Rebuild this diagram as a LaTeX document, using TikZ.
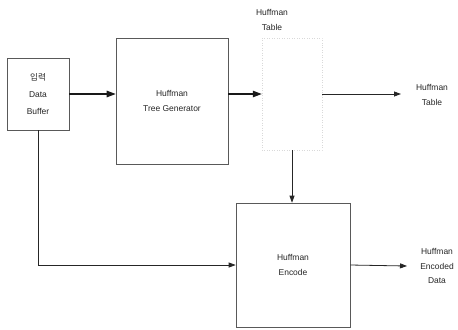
\documentclass[tikz,border=0pt]{standalone}
\usepackage{fontspec}
\setmainfont{Liberation Sans}
\newfontfamily\krfont{Noto Sans CJK KR}
\usetikzlibrary{arrows.meta}
\begin{document}
\begin{tikzpicture}[x=1bp,y=-1bp,
  blk/.style={draw=black!65,line width=0.6bp,inner sep=0pt,align=center,font=\fontsize{8.5}{14.5}\selectfont,text=black!85},
  ghost/.style={draw=black!15,dotted,line width=0.5bp,inner sep=0pt},
  lbl/.style={align=center,font=\fontsize{8.5}{14.5}\selectfont,text=black!85},
  arr/.style={-{Triangle[length=7bp,width=5bp]},line width=0.8bp,draw=black!85},
  arrb/.style={-{Triangle[length=9bp,width=6.5bp]},line width=1.1bp,draw=black!90}]
\useasboundingbox (0,0) rectangle (458,329);
\node[blk,minimum width=62bp,minimum height=72bp,font=\fontsize{8.5}{17.5}\selectfont] (db) at (38,94) {{\krfont 입력}\\Data\\Buffer};
\node[blk,minimum width=112bp,minimum height=126bp] (tg) at (172,101) {Huffman\\Tree Generator};
\node[ghost,minimum width=60bp,minimum height=112bp] (tb) at (292,94) {};
\node[blk,minimum width=114bp,minimum height=124bp] (en) at (293,265) {Huffman\\Encode};
\node[lbl] (tt) at (272,20) {Huffman\\Table};
\node[lbl] (ot) at (432,95) {Huffman\\Table};
\node[lbl] (od) at (437,266) {Huffman\\Encoded\\Data};
\coordinate (o1) at (401,94);
\coordinate (o2) at (407,266);
\draw[arrb] (db.east) -- (tg.west |- db.east);
\draw[arrb] (tg.east |- tb.west) -- (tb.west);
\draw[arr] (tb.east) -- (o1);
\draw[arr] (tb.south) -- (tb.south |- en.north);
\draw[arr] (en.east) -- (o2);
\draw[arr] (db.south) -- (db.south |- en.west) -- (en.west);
\end{tikzpicture}
\end{document}
